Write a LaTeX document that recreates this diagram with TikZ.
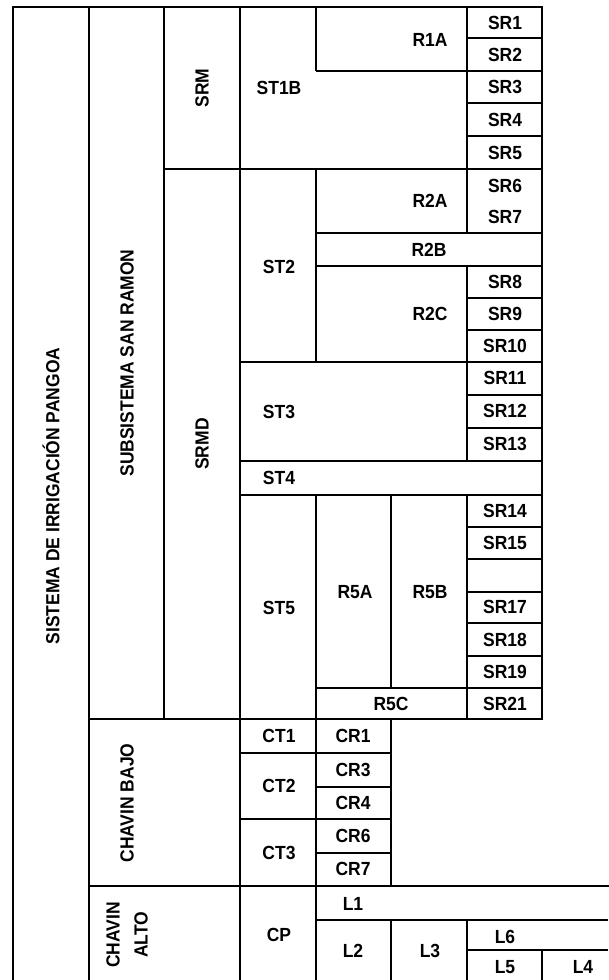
\documentclass[tikz,border=0pt]{standalone}
\usepackage{fontspec}
\setmainfont{Liberation Sans}[FakeStretch=0.92]

\begin{document}
\begin{tikzpicture}[
    x=1pt, y=-1pt,
    heavy/.style={draw=black, line width=2.8pt, line cap=rect},
    light/.style={draw=black, line width=1.3pt},
    lbl/.style={font=\bfseries\fontsize{19}{21}\selectfont, inner sep=0pt},
    vlbl/.style={lbl, rotate=90, align=center}
  ]
    \useasboundingbox (0,0) rectangle (608,980);

    \draw[heavy] (13,980) -- (13,7) -- (542,7) -- (542,719);
    \draw[heavy] (89,7) -- (89,980);
    \draw[heavy] (164,7) -- (164,719);
    \draw[heavy] (240,7) -- (240,980);
    \draw[heavy] (89,719) -- (542,719);
    \draw[heavy] (164,169) -- (542,169);
    \draw[heavy] (240,362) -- (542,362);
    \draw[heavy] (240,461) -- (542,461);
    \draw[heavy] (240,495) -- (542,495);
    \draw[heavy] (240,753) -- (391,753);
    \draw[heavy] (240,819) -- (391,819);
    \draw[heavy] (391,719) -- (391,886);
    \draw[heavy] (89,886) -- (608,886);

    \draw[light] (316,7) -- (316,71);
    \draw[light] (316,169) -- (316,362);
    \draw[light] (316,495) -- (316,980);
    \draw[light] (467,7) -- (467,233);
    \draw[light] (467,266) -- (467,461);
    \draw[light] (467,495) -- (467,719);
    \draw[light] (391,495) -- (391,688);
    \draw[light] (316,71) -- (542,71);
    \draw[light] (316,233) -- (542,233);
    \draw[light] (316,266) -- (542,266);
    \draw[light] (316,688) -- (542,688);
    \draw[light] (467,38) -- (542,38);
    \draw[light] (467,103) -- (542,103);
    \draw[light] (467,136) -- (542,136);
    \draw[light] (467,298) -- (542,298);
    \draw[light] (467,330) -- (542,330);
    \draw[light] (467,395) -- (542,395);
    \draw[light] (467,428) -- (542,428);
    \draw[light] (467,527) -- (542,527);
    \draw[light] (467,559) -- (542,559);
    \draw[light] (467,592) -- (542,592);
    \draw[light] (467,623) -- (542,623);
    \draw[light] (467,656) -- (542,656);
    \draw[light] (316,787) -- (391,787);
    \draw[light] (316,853) -- (391,853);
    \draw[light] (316,920) -- (608,920);
    \draw[light] (467,950) -- (608,950);
    \draw[light] (391,920) -- (391,980);
    \draw[light] (467,920) -- (467,980);
    \draw[light] (542,950) -- (542,980);

    \node (sist) [vlbl] at (51,496) {SISTEMA DE IRRIGACIÓN PANGOA};
    \node (sanramon) [vlbl] at (127,363) {SUBSISTEMA SAN RAMON};
    \node (srm) [vlbl] at (202,88) {SRM};
    \node (srmd) [vlbl] at (202,444) {SRMD};
    \node (cbajo) [vlbl] at (127,803) {CHAVIN BAJO};
    \node (calto) [vlbl, font=\bfseries\fontsize{19}{28}\selectfont] at (127,935) {CHAVIN\\ALTO};

    \node (st1b) [lbl] at (279,88) {ST1B};
    \node (r1a) [lbl] at (430,40) {R1A};
    \node (sr1) [lbl] at (505,23) {SR1};
    \node (sr2) [lbl] at (505,55) {SR2};
    \node (sr3) [lbl] at (505,87) {SR3};
    \node (sr4) [lbl] at (505,120) {SR4};
    \node (sr5) [lbl] at (505,153) {SR5};

    \node (st2) [lbl] at (279,267) {ST2};
    \node (r2a) [lbl] at (430,201) {R2A};
    \node (sr6) [lbl] at (505,186) {SR6};
    \node (sr7) [lbl] at (505,217) {SR7};
    \node (r2b) [lbl] at (429,250) {R2B};
    \node (r2c) [lbl] at (430,314) {R2C};
    \node (sr8) [lbl] at (505,282) {SR8};
    \node (sr9) [lbl] at (505,314) {SR9};
    \node (sr10) [lbl] at (505,346) {SR10};

    \node (st3) [lbl] at (279,412) {ST3};
    \node (sr11) [lbl] at (505,378) {SR11};
    \node (sr12) [lbl] at (505,411) {SR12};
    \node (sr13) [lbl] at (505,444) {SR13};
    \node (st4) [lbl] at (279,478) {ST4};

    \node (st5) [lbl] at (279,608) {ST5};
    \node (r5a) [lbl] at (355,592) {R5A};
    \node (r5b) [lbl] at (430,592) {R5B};
    \node (r5c) [lbl] at (391,704) {R5C};
    \node (sr14) [lbl] at (505,511) {SR14};
    \node (sr15) [lbl] at (505,543) {SR15};
    \node (sr17) [lbl] at (505,607) {SR17};
    \node (sr18) [lbl] at (505,640) {SR18};
    \node (sr19) [lbl] at (505,672) {SR19};
    \node (sr21) [lbl] at (505,704) {SR21};

    \node (ct1) [lbl] at (279,736) {CT1};
    \node (ct2) [lbl] at (279,786) {CT2};
    \node (ct3) [lbl] at (279,853) {CT3};
    \node (cr1) [lbl] at (353,736) {CR1};
    \node (cr3) [lbl] at (353,770) {CR3};
    \node (cr4) [lbl] at (353,803) {CR4};
    \node (cr6) [lbl] at (353,836) {CR6};
    \node (cr7) [lbl] at (353,869) {CR7};

    \node (cp) [lbl] at (279,935) {CP};
    \node (l1) [lbl] at (353,904) {L1};
    \node (l2) [lbl] at (353,951) {L2};
    \node (l3) [lbl] at (430,951) {L3};
    \node (l6) [lbl] at (505,937) {L6};
    \node (l5) [lbl] at (505,967) {L5};
    \node (l4) [lbl] at (583,967) {L4};
  \end{tikzpicture}
\end{document}
